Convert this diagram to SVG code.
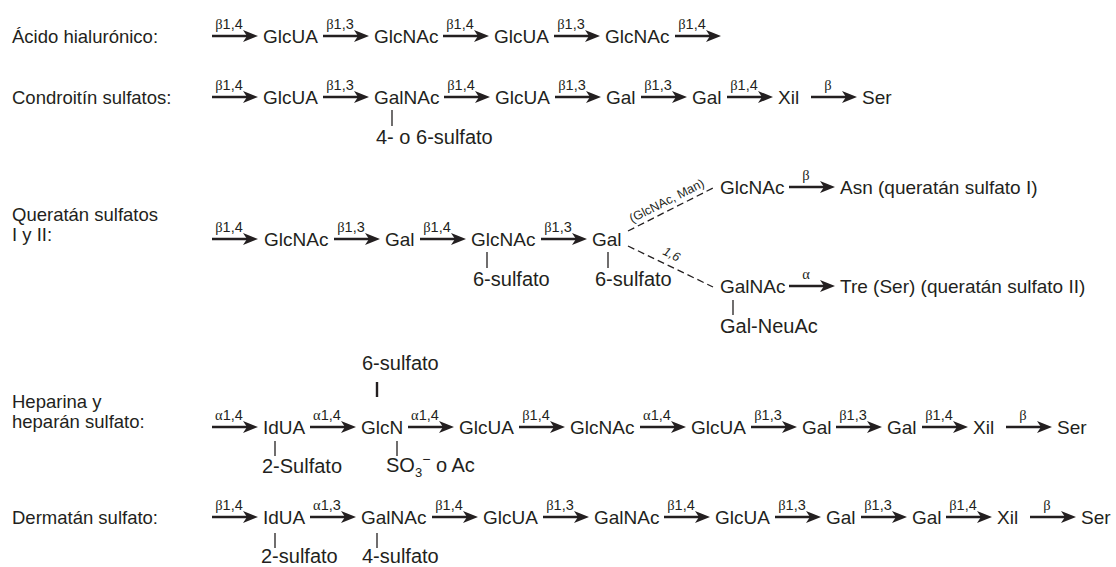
<svg xmlns="http://www.w3.org/2000/svg" width="1116" height="567" viewBox="0 0 1116 567">
<style>
.t{font-family:"Liberation Sans",Arial,sans-serif;fill:#231f20}
.ti{font-size:18.5px}
.n{font-size:19px}
.s{font-size:20px}
.lb{font-size:14.5px;text-anchor:middle}
.gr{font-family:"Liberation Serif","Times New Roman",serif}
.ar{stroke:#231f20;stroke-width:2.6;fill:none;marker-end:url(#ah)}
.tk{stroke:#231f20;stroke-width:1.3}
.tkb{stroke:#231f20;stroke-width:2.4}
.ds{stroke:#231f20;stroke-width:1.3;stroke-dasharray:7 4;fill:none}
.dl{font-size:12.5px}
</style>
<defs>
<marker id="ah" markerUnits="userSpaceOnUse" viewBox="0 0 15 12" markerWidth="15" markerHeight="12" refX="7" refY="6" orient="auto">
<path d="M0,0 L15,6 L0,12 L4,6 Z" fill="#231f20"/>
</marker>
</defs>
<rect width="1116" height="567" fill="#fff"/>

<g id="titles">
<g id="title-hialuronico"><text class="t ti" x="12" y="42.5">Ácido hialurónico:</text></g>
<g id="title-condroitin"><text class="t ti" x="12" y="103.5">Condroitín sulfatos:</text></g>
<g id="title-queratan"><text class="t ti" x="12" y="220.5">Queratán sulfatos</text><text class="t ti" x="12" y="241">I y II:</text></g>
<g id="title-heparina"><text class="t ti" x="12" y="407.5">Heparina y</text><text class="t ti" x="12" y="428">heparán sulfato:</text></g>
<g id="title-dermatan"><text class="t ti" x="12" y="523.5">Dermatán sulfato:</text></g>
</g>

<g id="connectors">
<!-- row 1 -->
<path class="ar" d="M212,36h38"/><path class="ar" d="M323,36h38"/><path class="ar" d="M443,36h38"/><path class="ar" d="M554,36h38"/><path class="ar" d="M675,36h38"/>
<text class="t lb" x="229" y="29"><tspan class="gr">β</tspan>1,4</text>
<text class="t lb" x="340" y="29"><tspan class="gr">β</tspan>1,3</text>
<text class="t lb" x="460" y="29"><tspan class="gr">β</tspan>1,4</text>
<text class="t lb" x="571" y="29"><tspan class="gr">β</tspan>1,3</text>
<text class="t lb" x="692" y="29"><tspan class="gr">β</tspan>1,4</text>
<!-- row 2 -->
<path class="ar" d="M212,97h38"/><path class="ar" d="M323,97h38"/><path class="ar" d="M444,97h38"/><path class="ar" d="M555,97h38"/><path class="ar" d="M641,97h38"/><path class="ar" d="M727,97h38"/><path class="ar" d="M811,97h38"/>
<text class="t lb" x="229" y="90"><tspan class="gr">β</tspan>1,4</text>
<text class="t lb" x="340" y="90"><tspan class="gr">β</tspan>1,3</text>
<text class="t lb" x="461" y="90"><tspan class="gr">β</tspan>1,4</text>
<text class="t lb" x="572" y="90"><tspan class="gr">β</tspan>1,3</text>
<text class="t lb" x="658" y="90"><tspan class="gr">β</tspan>1,3</text>
<text class="t lb" x="744" y="90"><tspan class="gr">β</tspan>1,4</text>
<text class="t lb gr" x="828" y="90">β</text>
<line class="tk" x1="392" y1="110" x2="392" y2="126"/>
<!-- row 3 -->
<path class="ar" d="M212,239h38"/><path class="ar" d="M334,239h38"/><path class="ar" d="M420,239h38"/><path class="ar" d="M541,239h38"/>
<text class="t lb" x="229" y="232"><tspan class="gr">β</tspan>1,4</text>
<text class="t lb" x="351" y="232"><tspan class="gr">β</tspan>1,3</text>
<text class="t lb" x="437" y="232"><tspan class="gr">β</tspan>1,4</text>
<text class="t lb" x="558" y="232"><tspan class="gr">β</tspan>1,3</text>
<line class="tk" x1="487" y1="252" x2="487" y2="268"/>
<line class="tk" x1="608" y1="252" x2="608" y2="268"/>
<path class="ds" d="M628,231 L713,188"/>
<path class="ds" d="M628,246 L713,287"/>
<text class="t dl" transform="translate(632,223) rotate(-26.8)">(GlcNAc, Man)</text>
<text class="t dl" font-style="italic" transform="translate(662,254) rotate(26.6)">1,6</text>
<path class="ar" d="M789,187h38"/><path class="ar" d="M789,286h38"/>
<text class="t lb gr" x="806" y="180">β</text>
<text class="t lb gr" x="806" y="279">α</text>
<line class="tk" x1="733" y1="300" x2="733" y2="315"/>
<!-- row 4 -->
<path class="ar" d="M212,427h38"/><path class="ar" d="M310,427h38"/><path class="ar" d="M408,427h38"/><path class="ar" d="M519,427h38"/><path class="ar" d="M640,427h38"/><path class="ar" d="M751,427h38"/><path class="ar" d="M836,427h38"/><path class="ar" d="M922,427h38"/><path class="ar" d="M1006,427h38"/>
<text class="t lb" x="229" y="420"><tspan class="gr">α</tspan>1,4</text>
<text class="t lb" x="327" y="420"><tspan class="gr">α</tspan>1,4</text>
<text class="t lb" x="425" y="420"><tspan class="gr">α</tspan>1,4</text>
<text class="t lb" x="536" y="420"><tspan class="gr">β</tspan>1,4</text>
<text class="t lb" x="657" y="420"><tspan class="gr">α</tspan>1,4</text>
<text class="t lb" x="768" y="420"><tspan class="gr">β</tspan>1,3</text>
<text class="t lb" x="853" y="420"><tspan class="gr">β</tspan>1,3</text>
<text class="t lb" x="939" y="420"><tspan class="gr">β</tspan>1,4</text>
<text class="t lb gr" x="1023" y="420">β</text>
<line class="tk" x1="275" y1="441" x2="275" y2="456"/>
<line class="tkb" x1="377" y1="382" x2="377" y2="397"/>
<line class="tk" x1="397" y1="441" x2="397" y2="456"/>
<!-- row 5 -->
<path class="ar" d="M212,517h38"/><path class="ar" d="M310,517h38"/><path class="ar" d="M432,517h38"/><path class="ar" d="M543,517h38"/><path class="ar" d="M664,517h38"/><path class="ar" d="M775,517h38"/><path class="ar" d="M861,517h38"/><path class="ar" d="M946,517h38"/><path class="ar" d="M1030,517h38"/>
<text class="t lb" x="229" y="510"><tspan class="gr">β</tspan>1,4</text>
<text class="t lb" x="327" y="510"><tspan class="gr">α</tspan>1,3</text>
<text class="t lb" x="449" y="510"><tspan class="gr">β</tspan>1,4</text>
<text class="t lb" x="560" y="510"><tspan class="gr">β</tspan>1,3</text>
<text class="t lb" x="681" y="510"><tspan class="gr">β</tspan>1,4</text>
<text class="t lb" x="792" y="510"><tspan class="gr">β</tspan>1,3</text>
<text class="t lb" x="878" y="510"><tspan class="gr">β</tspan>1,3</text>
<text class="t lb" x="963" y="510"><tspan class="gr">β</tspan>1,4</text>
<text class="t lb gr" x="1047" y="510">β</text>
<line class="tk" x1="275" y1="533" x2="275" y2="548"/>
<line class="tk" x1="377" y1="533" x2="377" y2="548"/>
</g>

<g id="nodes-hialuronico">
<g id="r1-glcua-1"><text class="t n" x="263" y="42.5">GlcUA</text></g>
<g id="r1-glcnac-1"><text class="t n" x="374" y="42.5">GlcNAc</text></g>
<g id="r1-glcua-2"><text class="t n" x="494" y="42.5">GlcUA</text></g>
<g id="r1-glcnac-2"><text class="t n" x="605" y="42.5">GlcNAc</text></g>
</g>

<g id="nodes-condroitin">
<g id="r2-glcua-1"><text class="t n" x="263" y="103.5">GlcUA</text></g>
<g id="r2-galnac"><text class="t n" x="374" y="103.5">GalNAc</text></g>
<g id="r2-galnac-sulf"><text class="t s" x="376" y="144">4- o 6-sulfato</text></g>
<g id="r2-glcua-2"><text class="t n" x="495" y="103.5">GlcUA</text></g>
<g id="r2-gal-1"><text class="t n" x="606" y="103.5">Gal</text></g>
<g id="r2-gal-2"><text class="t n" x="692" y="103.5">Gal</text></g>
<g id="r2-xil"><text class="t n" x="778" y="103.5">Xil</text></g>
<g id="r2-ser"><text class="t n" x="862" y="103.5">Ser</text></g>
</g>

<g id="nodes-queratan">
<g id="r3-glcnac-1"><text class="t n" x="264" y="245.5">GlcNAc</text></g>
<g id="r3-gal-1"><text class="t n" x="385" y="245.5">Gal</text></g>
<g id="r3-glcnac-2"><text class="t n" x="471" y="245.5">GlcNAc</text></g>
<g id="r3-glcnac-2-sulf"><text class="t s" x="473" y="286">6-sulfato</text></g>
<g id="r3-gal-2"><text class="t n" x="592" y="245.5">Gal</text></g>
<g id="r3-gal-2-sulf"><text class="t s" x="595" y="286">6-sulfato</text></g>
<g id="r3-glcnac-up"><text class="t n" x="720" y="193.5">GlcNAc</text></g>
<g id="r3-asn"><text class="t n" x="840" y="193.5">Asn (queratán sulfato I)</text></g>
<g id="r3-galnac-low"><text class="t n" x="720" y="292.5">GalNAc</text></g>
<g id="r3-tre"><text class="t n" x="840" y="292.5">Tre (Ser) (queratán sulfato II)</text></g>
<g id="r3-galneuac"><text class="t s" x="720" y="333">Gal-NeuAc</text></g>
</g>

<g id="nodes-heparina">
<g id="r4-idua"><text class="t n" x="263" y="433.5">IdUA</text></g>
<g id="r4-idua-sulf"><text class="t s" x="262" y="473">2-Sulfato</text></g>
<g id="r4-glcn"><text class="t n" x="361" y="433.5">GlcN</text></g>
<g id="r4-glcn-6sulf"><text class="t s" x="362" y="370">6-sulfato</text></g>
<g id="r4-glcn-so3"><text class="t s" x="386" y="472">SO<tspan font-size="13" dy="5">3</tspan><tspan font-size="14" dy="-13">−</tspan><tspan dy="8"> o Ac</tspan></text></g>
<g id="r4-glcua-1"><text class="t n" x="459" y="433.5">GlcUA</text></g>
<g id="r4-glcnac"><text class="t n" x="570" y="433.5">GlcNAc</text></g>
<g id="r4-glcua-2"><text class="t n" x="691" y="433.5">GlcUA</text></g>
<g id="r4-gal-1"><text class="t n" x="802" y="433.5">Gal</text></g>
<g id="r4-gal-2"><text class="t n" x="887" y="433.5">Gal</text></g>
<g id="r4-xil"><text class="t n" x="973" y="433.5">Xil</text></g>
<g id="r4-ser"><text class="t n" x="1057" y="433.5">Ser</text></g>
</g>

<g id="nodes-dermatan">
<g id="r5-idua"><text class="t n" x="263" y="523.5">IdUA</text></g>
<g id="r5-idua-sulf"><text class="t s" x="261" y="563">2-sulfato</text></g>
<g id="r5-galnac-1"><text class="t n" x="361" y="523.5">GalNAc</text></g>
<g id="r5-galnac-sulf"><text class="t s" x="362" y="563">4-sulfato</text></g>
<g id="r5-glcua-1"><text class="t n" x="483" y="523.5">GlcUA</text></g>
<g id="r5-galnac-2"><text class="t n" x="594" y="523.5">GalNAc</text></g>
<g id="r5-glcua-2"><text class="t n" x="715" y="523.5">GlcUA</text></g>
<g id="r5-gal-1"><text class="t n" x="826" y="523.5">Gal</text></g>
<g id="r5-gal-2"><text class="t n" x="912" y="523.5">Gal</text></g>
<g id="r5-xil"><text class="t n" x="997" y="523.5">Xil</text></g>
<g id="r5-ser"><text class="t n" x="1081" y="523.5">Ser</text></g>
</g>
</svg>
